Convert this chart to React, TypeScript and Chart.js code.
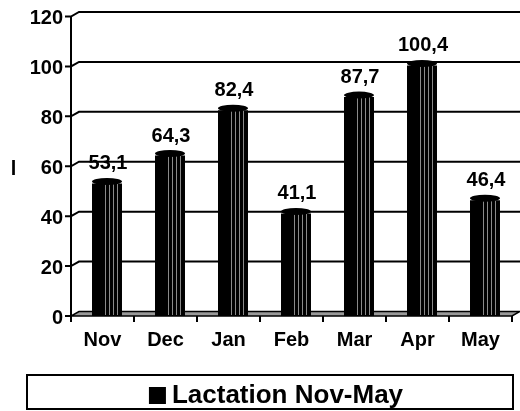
import React, { useEffect, useRef } from "react";
import { Chart, registerables } from "chart.js";

Chart.register(...registerables);

const categories = ["Nov", "Dec", "Jan", "Feb", "Mar", "Apr", "May"];
const lactation = [53.1, 64.3, 82.4, 41.1, 87.7, 100.4, 46.4];
const seriesLabel = "Lactation Nov-May";
const yAxisTitle = "l";
const yMin = 0;
const yMax = 120;
const yStep = 20;

const FONT = "'Liberation Sans', Arial, sans-serif";
const DEPTH_X = 8;
const DEPTH_Y = 4.5;
const FRONT_SHIFT = 4.5;

const fmt = (v: number) => v.toFixed(1).replace(".", ",");

const threeD = {
  id: "threeD",
  beforeDatasetsDraw(chart: any) {
    const { ctx, chartArea, scales } = chart;
    const x = scales.x;
    const y = scales.y;
    const left = chartArea.left - FRONT_SHIFT;
    const right = chartArea.right - FRONT_SHIFT;
    const py0 = y.getPixelForValue(yMin);
    const pyTop = y.getPixelForValue(yMax);
    ctx.save();
    ctx.strokeStyle = "#000";
    ctx.lineWidth = 2;
    ctx.lineJoin = "miter";
    // back wall gridlines with diagonal connectors and tick marks
    y.ticks.forEach((t: any) => {
      const py = y.getPixelForValue(t.value);
      ctx.beginPath();
      ctx.moveTo(left - 6, py);
      ctx.lineTo(left, py);
      if (t.value !== yMin) {
        ctx.lineTo(left + DEPTH_X, py - DEPTH_Y);
        ctx.lineTo(chart.width, py - DEPTH_Y);
      }
      ctx.stroke();
    });
    // floor
    ctx.beginPath();
    ctx.moveTo(left, py0);
    ctx.lineTo(right, py0);
    ctx.lineTo(right + DEPTH_X, py0 - DEPTH_Y);
    ctx.lineTo(left + DEPTH_X, py0 - DEPTH_Y);
    ctx.closePath();
    ctx.fillStyle = "#999999";
    ctx.fill();
    ctx.lineWidth = 1.5;
    ctx.stroke();
    // y axis line
    ctx.lineWidth = 2;
    ctx.beginPath();
    ctx.moveTo(left, pyTop);
    ctx.lineTo(left, py0 + 1);
    ctx.stroke();
    // x tick marks
    const half = (x.getPixelForValue(1) - x.getPixelForValue(0)) / 2;
    for (let i = 0; i <= categories.length; i++) {
      const px = x.getPixelForValue(0) - half + i * 2 * half - FRONT_SHIFT;
      ctx.beginPath();
      ctx.moveTo(px, py0);
      ctx.lineTo(px, py0 + 6);
      ctx.stroke();
    }
    // y axis title (unrotated)
    ctx.fillStyle = "#000";
    ctx.font = `bold 20px ${FONT}`;
    ctx.textAlign = "center";
    ctx.textBaseline = "alphabetic";
    ctx.fillText(yAxisTitle, 13.5, (y.getPixelForValue(60) + 8.5));
    ctx.restore();
  },
  afterDatasetsDraw(chart: any) {
    const { ctx } = chart;
    const meta = chart.getDatasetMeta(0);
    const data = chart.data.datasets[0].data as number[];
    ctx.save();
    meta.data.forEach((bar: any, i: number) => {
      const { x, y, width, base } = bar.getProps(["x", "y", "width", "base"], true);
      const l = x - width / 2;
      // shading lines
      ctx.strokeStyle = "#8a8a8a";
      ctx.lineWidth = 1;
      [0.43, 0.57, 0.69, 0.84].forEach((f) => {
        const lx = Math.round(l + width * f) + 0.5;
        ctx.beginPath();
        ctx.moveTo(lx, y);
        ctx.lineTo(lx, base - 1);
        ctx.stroke();
      });
      // cylinder cap
      ctx.fillStyle = "#000";
      ctx.beginPath();
      ctx.ellipse(x, y - 2, width / 2, 3.5, 0, 0, Math.PI * 2);
      ctx.fill();
      // value label
      ctx.font = `bold 20px ${FONT}`;
      ctx.textAlign = "center";
      ctx.textBaseline = "alphabetic";
      ctx.fillText(fmt(data[i]), x + 1, y - 14);
    });
    ctx.restore();
  },
  afterDraw(chart: any) {
    const { ctx } = chart;
    const ds = chart.data.datasets[0];
    ctx.save();
    const bx = 27, by = 375, bw = 486, bh = 34;
    ctx.strokeStyle = "#000";
    ctx.lineWidth = 2;
    ctx.strokeRect(bx, by, bw, bh);
    ctx.font = `bold 26px ${FONT}`;
    const tw = ctx.measureText(ds.label).width;
    const sq = 17;
    const gap = 6;
    const total = sq + gap + tw;
    const sx = bx + bw / 2 - total / 2 + 6;
    ctx.fillStyle = ds.backgroundColor;
    ctx.fillRect(sx, by + 12, sq, sq);
    ctx.fillStyle = "#000";
    ctx.textAlign = "left";
    ctx.textBaseline = "alphabetic";
    ctx.fillText(ds.label, sx + sq + gap, by + 28);
    ctx.restore();
  },
};

export default function App() {
  const ref = useRef<HTMLCanvasElement | null>(null);
  useEffect(() => {
    if (!ref.current) return;
    const chart = new Chart(ref.current, {
      type: "bar",
      data: {
        labels: categories,
        datasets: [
          {
            label: seriesLabel,
            data: lactation,
            backgroundColor: "#000000",
            borderWidth: 0,
            categoryPercentage: 1,
            barPercentage: 0.476,
          },
        ],
      },
      options: {
        responsive: false,
        animation: false,
        events: [],
        layout: { padding: { top: 16.5, right: 3.5, left: 0, bottom: 0 } },
        plugins: { legend: { display: false }, tooltip: { enabled: false } },
        scales: {
          x: {
            grid: { display: false, drawTicks: true, tickLength: 12 },
            border: { display: false },
            ticks: {
              color: "#000",
              font: { family: FONT, size: 20, weight: "bold" },
              padding: 0,
              labelOffset: -FRONT_SHIFT,
              maxRotation: 0,
              autoSkip: false,
            },
            afterFit: (s: any) => {
              s.height = 95;
            },
          },
          y: {
            min: yMin,
            max: yMax,
            grid: { display: false, drawTicks: true, tickLength: 12 },
            border: { display: false },
            ticks: {
              stepSize: yStep,
              color: "#000",
              font: { family: FONT, size: 20, weight: "bold" },
              padding: 0.5,
              labelOffset: 2,
            },
            afterFit: (s: any) => {
              s.width = 75.5;
            },
          },
        },
      },
      plugins: [threeD],
    } as any);
    return () => chart.destroy();
  }, []);
  return (
    <div style={{ position: "fixed", left: 0, top: 0, width: 520, height: 411, background: "#fff" }}>
      <canvas ref={ref} width={520} height={411} />
    </div>
  );
}
